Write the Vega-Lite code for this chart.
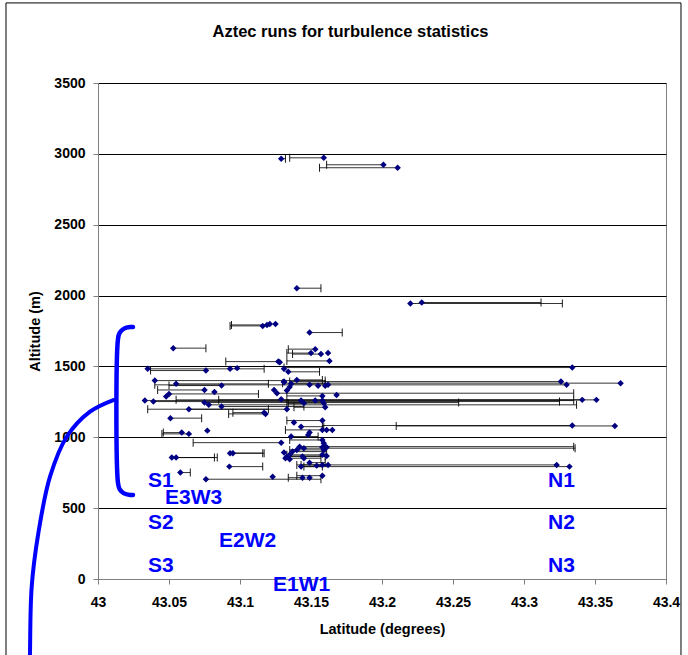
{
  "$schema": "https://vega.github.io/schema/vega-lite/v6.json",
  "width": 568,
  "height": 496,
  "autosize": {"type": "none"},
  "padding": {"left": 98, "top": 83, "right": 22, "bottom": 76},
  "background": "#ffffff",
  "title": {
    "text": "Aztec runs for turbulence statistics",
    "font": "Liberation Sans",
    "fontSize": 16.5,
    "fontWeight": "bold",
    "color": "#000000",
    "anchor": "middle",
    "frame": "bounds",
    "baseline": "alphabetic",
    "offset": -51,
    "dx": 7
  },
  "datasets": {
    "frame": [{"lat": 42.93521, "lat2": 43.41056, "alt": 4065, "alt2": -750}],
    "runs": [
      {"lat": 43.129, "alt": 2966, "e": 43.132},
      {"lat": 43.159, "alt": 2972, "e": 43.135},
      {"lat": 43.201, "alt": 2923, "e": 43.161},
      {"lat": 43.211, "alt": 2902, "e": 43.156},
      {"lat": 43.140, "alt": 2052, "e": 43.157},
      {"lat": 43.220, "alt": 1944, "e": 43.327},
      {"lat": 43.228, "alt": 1951, "e": 43.312},
      {"lat": 43.116, "alt": 1786, "e": 43.093},
      {"lat": 43.119, "alt": 1793, "e": 43.094},
      {"lat": 43.121, "alt": 1800, "e": null},
      {"lat": 43.125, "alt": 1800, "e": null},
      {"lat": 43.149, "alt": 1739, "e": 43.172},
      {"lat": 43.053, "alt": 1629, "e": 43.076},
      {"lat": 43.127, "alt": 1534, "e": 43.090},
      {"lat": 43.150, "alt": 1594, "e": 43.133},
      {"lat": 43.153, "alt": 1622, "e": 43.134},
      {"lat": 43.157, "alt": 1587, "e": 43.137},
      {"lat": 43.162, "alt": 1594, "e": null},
      {"lat": 43.163, "alt": 1539, "e": 43.133},
      {"lat": 43.128, "alt": 1530, "e": null},
      {"lat": 43.035, "alt": 1483, "e": 43.117},
      {"lat": 43.076, "alt": 1471, "e": 43.037},
      {"lat": 43.093, "alt": 1483, "e": null},
      {"lat": 43.098, "alt": 1488, "e": null},
      {"lat": 43.131, "alt": 1483, "e": null},
      {"lat": 43.134, "alt": 1462, "e": 43.156},
      {"lat": 43.040, "alt": 1400, "e": 43.160},
      {"lat": 43.055, "alt": 1377, "e": 43.120},
      {"lat": 43.087, "alt": 1365, "e": 43.050},
      {"lat": 43.131, "alt": 1389, "e": null},
      {"lat": 43.075, "alt": 1334, "e": 43.042},
      {"lat": 43.082, "alt": 1320, "e": null},
      {"lat": 43.050, "alt": 1306, "e": 43.113},
      {"lat": 43.048, "alt": 1287, "e": null},
      {"lat": 43.033, "alt": 1259, "e": 43.335},
      {"lat": 43.039, "alt": 1252, "e": 43.325},
      {"lat": 43.075, "alt": 1245, "e": 43.254},
      {"lat": 43.078, "alt": 1229, "e": 43.337},
      {"lat": 43.064, "alt": 1198, "e": 43.120},
      {"lat": 43.087, "alt": 1217, "e": 43.145},
      {"lat": 43.117, "alt": 1174, "e": 43.095},
      {"lat": 43.118, "alt": 1165, "e": 43.092},
      {"lat": 43.051, "alt": 1135, "e": 43.073},
      {"lat": 43.124, "alt": 1334, "e": null},
      {"lat": 43.126, "alt": 1311, "e": 43.335},
      {"lat": 43.129, "alt": 1269, "e": null},
      {"lat": 43.059, "alt": 1033, "e": 43.046},
      {"lat": 43.064, "alt": 1024, "e": 43.045},
      {"lat": 43.077, "alt": 1047, "e": null},
      {"lat": 43.129, "alt": 962, "e": 43.067},
      {"lat": 43.136, "alt": 1005, "e": 43.155},
      {"lat": 43.052, "alt": 857, "e": 43.082},
      {"lat": 43.055, "alt": 857, "e": 43.084},
      {"lat": 43.093, "alt": 888, "e": 43.116},
      {"lat": 43.095, "alt": 888, "e": 43.117},
      {"lat": 43.0925, "alt": 793, "e": 43.116},
      {"lat": 43.058, "alt": 751, "e": 43.065},
      {"lat": 43.076, "alt": 704, "e": 43.157},
      {"lat": 43.123, "alt": 722, "e": null},
      {"lat": 43.131, "alt": 1393, "e": null},
      {"lat": 43.136, "alt": 1377, "e": 43.160},
      {"lat": 43.135, "alt": 1354, "e": null},
      {"lat": 43.133, "alt": 1330, "e": null},
      {"lat": 43.149, "alt": 1370, "e": null},
      {"lat": 43.155, "alt": 1363, "e": null},
      {"lat": 43.160, "alt": 1363, "e": null},
      {"lat": 43.162, "alt": 1370, "e": null},
      {"lat": 43.168, "alt": 1299, "e": null},
      {"lat": 43.158, "alt": 1292, "e": 43.133},
      {"lat": 43.143, "alt": 1259, "e": null},
      {"lat": 43.145, "alt": 1241, "e": 43.133},
      {"lat": 43.153, "alt": 1259, "e": null},
      {"lat": 43.158, "alt": 1259, "e": null},
      {"lat": 43.159, "alt": 1241, "e": 43.134},
      {"lat": 43.160, "alt": 1212, "e": 43.138},
      {"lat": 43.133, "alt": 1198, "e": 43.035},
      {"lat": 43.158, "alt": 1118, "e": 43.133},
      {"lat": 43.138, "alt": 1104, "e": null},
      {"lat": 43.143, "alt": 1075, "e": 43.159},
      {"lat": 43.165, "alt": 1052, "e": 43.132},
      {"lat": 43.161, "alt": 1052, "e": null},
      {"lat": 43.158, "alt": 1052, "e": null},
      {"lat": 43.149, "alt": 1033, "e": null},
      {"lat": 43.148, "alt": 1017, "e": null},
      {"lat": 43.158, "alt": 981, "e": 43.135},
      {"lat": 43.159, "alt": 958, "e": null},
      {"lat": 43.131, "alt": 892, "e": null},
      {"lat": 43.133, "alt": 864, "e": 43.160},
      {"lat": 43.135, "alt": 876, "e": null},
      {"lat": 43.137, "alt": 899, "e": 43.161},
      {"lat": 43.142, "alt": 934, "e": 43.335},
      {"lat": 43.145, "alt": 923, "e": 43.336},
      {"lat": 43.158, "alt": 930, "e": null},
      {"lat": 43.160, "alt": 934, "e": null},
      {"lat": 43.159, "alt": 911, "e": 43.135},
      {"lat": 43.144, "alt": 864, "e": null},
      {"lat": 43.158, "alt": 876, "e": 43.133},
      {"lat": 43.149, "alt": 821, "e": 43.160},
      {"lat": 43.154, "alt": 800, "e": null},
      {"lat": 43.158, "alt": 805, "e": null},
      {"lat": 43.162, "alt": 805, "e": 43.140},
      {"lat": 43.144, "alt": 715, "e": 43.134},
      {"lat": 43.149, "alt": 715, "e": null},
      {"lat": 43.158, "alt": 729, "e": 43.140},
      {"lat": 43.140, "alt": 910, "e": null},
      {"lat": 43.132, "alt": 852, "e": 43.157},
      {"lat": 43.135, "alt": 845, "e": null},
      {"lat": 43.145, "alt": 852, "e": null},
      {"lat": 43.161, "alt": 868, "e": 43.135},
      {"lat": 43.143, "alt": 793, "e": 43.158},
      {"lat": 43.140, "alt": 1405, "e": 43.158},
      {"lat": 43.161, "alt": 929, "e": null},
      {"lat": 43.334, "alt": 1492, "e": 43.131},
      {"lat": 43.326, "alt": 1393, "e": 43.135},
      {"lat": 43.330, "alt": 1370, "e": 43.040},
      {"lat": 43.368, "alt": 1382, "e": 43.130},
      {"lat": 43.341, "alt": 1264, "e": 43.055},
      {"lat": 43.351, "alt": 1264, "e": 43.085},
      {"lat": 43.334, "alt": 1083, "e": 43.158},
      {"lat": 43.364, "alt": 1080, "e": 43.210},
      {"lat": 43.323, "alt": 805, "e": 43.143},
      {"lat": 43.332, "alt": 793, "e": 43.145}
    ],
    "bracket": [
      {"i": 1, "lat": 43.02465, "alt": 1778},
      {"i": 2, "lat": 43.02254, "alt": 1778},
      {"i": 3, "lat": 43.01831, "alt": 1767},
      {"i": 4, "lat": 43.01521, "alt": 1736},
      {"i": 5, "lat": 43.01408, "alt": 1694},
      {"i": 6, "lat": 43.01408, "alt": 677},
      {"i": 7, "lat": 43.01521, "alt": 635},
      {"i": 8, "lat": 43.01831, "alt": 604},
      {"i": 9, "lat": 43.02254, "alt": 593},
      {"i": 10, "lat": 43.02465, "alt": 593}
    ],
    "curve": [
      {"i": 1, "lat": 43.01077, "alt": 1263},
      {"i": 2, "lat": 42.99437, "alt": 1181},
      {"i": 3, "lat": 42.97796, "alt": 1004},
      {"i": 4, "lat": 42.96620, "alt": 722},
      {"i": 5, "lat": 42.95796, "alt": 322},
      {"i": 6, "lat": 42.95331, "alt": -54},
      {"i": 7, "lat": 42.95211, "alt": -522},
      {"i": 8, "lat": 42.95176, "alt": -783}
    ],
    "labels": [
      {"label": "S1", "lat": 43.0352, "alt": 651},
      {"label": "E3W3", "lat": 43.0472, "alt": 527},
      {"label": "S2", "lat": 43.0352, "alt": 353},
      {"label": "E2W2", "lat": 43.0852, "alt": 224},
      {"label": "S3", "lat": 43.0352, "alt": 47},
      {"label": "E1W1", "lat": 43.1232, "alt": -83},
      {"label": "N1", "lat": 43.3169, "alt": 651},
      {"label": "N2", "lat": 43.3169, "alt": 353},
      {"label": "N3", "lat": 43.3169, "alt": 47}
    ]
  },
  "layer": [
    {
      "data": {"name": "frame"},
      "mark": {"type": "rect", "fill": "#ffffff", "fillOpacity": 0, "stroke": "#000000", "strokeWidth": 1},
      "encoding": {
        "x": {"field": "lat", "type": "quantitative"},
        "x2": {"field": "lat2"},
        "y": {"field": "alt", "type": "quantitative"},
        "y2": {"field": "alt2"}
      }
    },
    {
      "data": {"name": "runs"},
      "transform": [{"filter": "datum.e != null"}],
      "mark": {"type": "rule", "color": "#000000", "strokeWidth": 1, "opacity": 0.8},
      "encoding": {
        "x": {"field": "lat", "type": "quantitative"},
        "x2": {"field": "e"},
        "y": {"field": "alt", "type": "quantitative"}
      }
    },
    {
      "data": {"name": "runs"},
      "transform": [{"filter": "datum.e != null"}],
      "mark": {"type": "tick", "orient": "vertical", "size": 8, "thickness": 1, "color": "#000000", "opacity": 0.9},
      "encoding": {
        "x": {"field": "e", "type": "quantitative"},
        "y": {"field": "alt", "type": "quantitative"}
      }
    },
    {
      "data": {"name": "runs"},
      "mark": {"type": "point", "shape": "diamond", "filled": true, "size": 42, "color": "#000080", "opacity": 1},
      "encoding": {
        "x": {
          "field": "lat",
          "type": "quantitative",
          "title": "Latitude (degrees)",
          "scale": {"domain": [43, 43.4], "nice": false, "zero": false},
          "axis": {
            "values": [43, 43.05, 43.1, 43.15, 43.2, 43.25, 43.3, 43.35, 43.4],
            "format": "~f",
            "grid": false,
            "labelFont": "Liberation Sans",
            "labelFontSize": 14,
            "labelFontWeight": "bold",
            "labelColor": "#000000",
            "labelPadding": 11,
            "labelOverlap": false,
            "labelFlush": false,
            "labelBound": false,
            "tickSize": 5,
            "tickColor": "#808080",
            "domainColor": "#808080",
            "titleFont": "Liberation Sans",
            "titleFontSize": 14.5,
            "titleFontWeight": "bold",
            "titleColor": "#000000",
            "titlePadding": 13
          }
        },
        "y": {
          "field": "alt",
          "type": "quantitative",
          "title": "Altitude (m)",
          "scale": {"domain": [0, 3500], "nice": false, "zero": false},
          "axis": {
            "values": [0, 500, 1000, 1500, 2000, 2500, 3000, 3500],
            "format": "d",
            "grid": true,
            "gridColor": "#000000",
            "gridWidth": 1,
            "labelFont": "Liberation Sans",
            "labelFontSize": 14,
            "labelFontWeight": "bold",
            "labelColor": "#000000",
            "labelPadding": 8,
            "labelOverlap": false,
            "labelFlush": false,
            "labelBound": false,
            "tickSize": 5,
            "tickColor": "#808080",
            "domainColor": "#808080",
            "titleFont": "Liberation Sans",
            "titleFontSize": 14.5,
            "titleFontWeight": "bold",
            "titleColor": "#000000",
            "titlePadding": 11
          }
        }
      }
    },
    {
      "data": {"name": "bracket"},
      "mark": {"type": "line", "color": "#0000ff", "strokeWidth": 4.5, "strokeCap": "round", "interpolate": "catmull-rom"},
      "encoding": {
        "x": {"field": "lat", "type": "quantitative"},
        "y": {"field": "alt", "type": "quantitative"},
        "order": {"field": "i", "type": "quantitative"}
      }
    },
    {
      "data": {"name": "curve"},
      "mark": {"type": "line", "color": "#0000ff", "strokeWidth": 4, "strokeCap": "round", "interpolate": "catmull-rom"},
      "encoding": {
        "x": {"field": "lat", "type": "quantitative"},
        "y": {"field": "alt", "type": "quantitative"},
        "order": {"field": "i", "type": "quantitative"}
      }
    },
    {
      "data": {"name": "labels"},
      "mark": {"type": "text", "font": "Liberation Sans", "fontSize": 21, "fontWeight": "bold", "color": "#0000ff", "align": "left", "baseline": "alphabetic"},
      "encoding": {
        "x": {"field": "lat", "type": "quantitative"},
        "y": {"field": "alt", "type": "quantitative"},
        "text": {"field": "label", "type": "nominal"}
      }
    }
  ],
  "config": {
    "view": {"stroke": "#808080", "strokeWidth": 1},
    "font": "Liberation Sans"
  }
}
